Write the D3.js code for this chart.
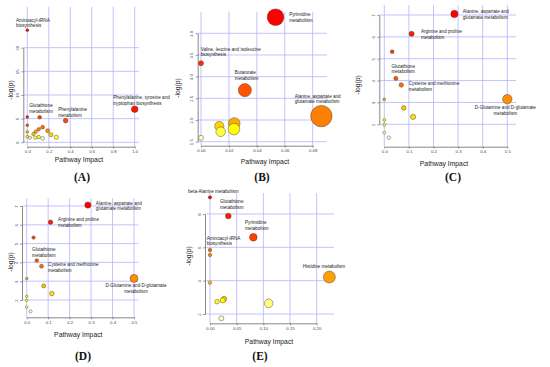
<!DOCTYPE html>
<html>
<head>
<meta charset="utf-8">
<script src="https://cdn.jsdelivr.net/npm/d3@7"></script>
<style>
  body { margin: 0; background: #fff; }
  svg text { font-family: "Liberation Sans", Arial, sans-serif; }
</style>
</head>
<body>
<div id="chart"></div>
<script>
// panel A
var impactA = [0, 1.0, 0.115, 0.357, 0, 0, 0.143, 0.106, 0.19, 0.078, 0, 0.056, 0.22, 0, 0.106, 0.27, 0.075, 0.025, 0.143];
var logpA = [23.7, 7.0, 5.3, 4.57, 5.35, 3.6, 3.2, 2.75, 2.45, 2.25, 2.2, 1.75, 1.6, 1.2, 1.12, 1.06, 0.97, 0.97, 0.84];
var labelsA = [
  [0, ["Aminoacyl-tRNA", "biosynthesis"]],
  [1, ["Phenylalanine, tyrosine and", "tryptophan biosynthesis"]],
  [2, ["Glutathione", "metabolism"]],
  [3, ["Phenylalanine", "metabolism"]]
];
var xTicksA = [0, 0.2, 0.4, 0.6, 0.8, 1.0], xTickLabelsA = ["0.0", "0.2", "0.4", "0.6", "0.8", "1.0"];
var yTicksA = [0, 5, 10, 15, 20], yTickLabelsA = ["0", "5", "10", "15", "20"];

// panel B
var impactB = [0.0534, 0, 0.0314, 0.0862, 0.0238, 0.0131, 0.0236, 0.0141, 0];
var logpB = [4.37, 3.31, 2.69, 2.09, 1.92, 1.86, 1.79, 1.73, 1.59];
var labelsB = [
  [0, ["Pyrimidine", "metabolism"]],
  [1, ["Valine, leucine and isoleucine", "biosynthesis"]],
  [2, ["Butanoate", "metabolism"]],
  [3, ["Alanine, aspartate and", "glutamate metabolism"]]
];
var xTicksB = [0, 0.02, 0.04, 0.06, 0.08], xTickLabelsB = ["0.00", "0.02", "0.04", "0.06", "0.08"];
var yTicksB = [1.5, 2.0, 2.5, 3.0, 3.5, 4.0], yTickLabelsB = ["1.5", "2.0", "2.5", "3.0", "3.5", "4.0"];

// panels C and D (same pathways)
var impactC = [0.285, 0.111, 0.032, 0.047, 0.069, 0, 0.5, 0.079, 0.117, 0, 0, 0, 0.018];
var logpC = [7.05, 6.14, 5.32, 4.1, 3.8, 3.14, 3.15, 2.75, 2.34, 2.2, 1.98, 1.62, 1.39];
var labelsC = [
  [0, ["Alanine, aspartate and", "glutamate metabolism"]],
  [1, ["Arginine and proline", "metabolism"]],
  [3, ["Glutathione", "metabolism"]],
  [4, ["Cysteine and methionine", "metabolism"]],
  [6, ["D-Glutamine and D-glutamate", "metabolism"]]
];
var xTicksC = [0, 0.1, 0.2, 0.3, 0.4, 0.5], xTickLabelsC = ["0.0", "0.1", "0.2", "0.3", "0.4", "0.5"];
var yTicksC = [2, 3, 4, 5, 6, 7], yTickLabelsC = ["2", "3", "4", "5", "6", "7"];

// panel E
var impactE = [0, 0.0343, 0.0812, 0, 0, 0.2237, 0, 0.0263, 0.0238, 0.0131, 0.110, 0.0212];
var logpE = [9.0, 7.88, 6.6, 5.84, 5.54, 4.22, 3.88, 2.9, 2.82, 2.74, 2.64, 1.74];
var labelsE = [
  [0, ["beta-Alanine metabolism"]],
  [1, ["Glutathione", "metabolism"]],
  [2, ["Pyrimidine", "metabolism"]],
  [3, ["Aminoacyl-tRNA", "biosynthesis"]],
  [5, ["Histidine metabolism"]]
];
var xTicksE = [0, 0.05, 0.10, 0.15, 0.20], xTickLabelsE = ["0.00", "0.05", "0.10", "0.15", "0.20"];
var yTicksE = [2, 4, 6, 8], yTickLabelsE = ["2", "4", "6", "8"];

var W = 550, H = 367;

// layout of each panel (pixel positions)
var panels = [
  { letter: "(A)", impact: impactA, logp: logpA, labels: labelsA,
    xTicks: xTicksA, xLab: xTickLabelsA, yTicks: yTicksA, yLab: yTickLabelsA,
    box: { left: 23.3, right: 139, top: 6.7, bottom: 146.7 },
    xRange: [27.3, 134.7], yRange: [142.3, 47.7], r: [1.4, 3.3],
    offsets: [[-11.3, -10], [-21.4, -11.6], [-10.4, -11.3], [-7.4, -10.7]], anchor: [],
    letterPos: [82, 181], xTitle: [79, 159], yTitle: [10, 90] },
  { letter: "(B)", impact: impactB, logp: logpB, labels: labelsB,
    xTicks: xTicksB, xLab: xTickLabelsB, yTicks: yTicksB, yLab: yTickLabelsB,
    box: { left: 197.7, right: 327, top: 11.7, bottom: 145.7 },
    xRange: [201, 312.7], yRange: [141.7, 33.3], r: [2.5, 10.7],
    offsets: [[13.6, -2.3], [-0.3, -14], [-10, -17.3], [-26.7, -20]], anchor: [],
    letterPos: [262, 181], xTitle: [265, 161], yTitle: [177, 88] },
  { letter: "(C)", impact: impactC, logp: logpC, labels: labelsC,
    xTicks: xTicksC, xLab: xTickLabelsC, yTicks: yTicksC, yLab: yTickLabelsC,
    box: { left: 379.3, right: 516, top: 5, bottom: 146.7 },
    xRange: [384.3, 507.3], yRange: [124.3, 15], r: [1.4, 4.7],
    offsets: [[8.4, -2.3], [9.3, -2], [-4.4, -12.3], [7.4, -1], [-2, 8.7]], anchor: [4],
    letterPos: [453, 181], xTitle: [444, 163], yTitle: [357, 85] },
  { letter: "(D)", impact: impactC, logp: logpC, labels: labelsC,
    xTicks: xTicksC, xLab: xTickLabelsC, yTicks: yTicksC, yLab: yTickLabelsC,
    box: { left: 22, right: 138.3, top: 198.3, bottom: 317.3 },
    xRange: [26.7, 134], yRange: [300, 206], r: [1.3, 4],
    offsets: [[8, -1.7], [7.6, -2.6], [-4.7, -10.7], [6.6, -1.7], [2, 7.3]], anchor: [4],
    letterPos: [83, 360], xTitle: [78.3, 334], yTitle: [10, 262] },
  { letter: "(E)", impact: impactE, logp: logpE, labels: labelsE,
    xTicks: xTicksE, xLab: xTickLabelsE, yTicks: yTicksE, yLab: yTickLabelsE,
    box: { left: 205, right: 334, top: 193, bottom: 323.3 },
    xRange: [210, 316.7], yRange: [314, 214], r: [1.7, 6],
    offsets: [[-22, -5.6], [-8.3, -14.3], [-8.3, -14.6], [-3.3, -11.7], [-26.6, -11]], anchor: [],
    letterPos: [260, 360], xTitle: [269, 341.5], yTitle: [188, 256] }
];

// R heat.colors(n)
function heatColors(n) {
  var j = Math.floor(n / 4), i = n - j, cols = [];
  for (var k = 0; k < i; k++) {
    var h = i > 1 ? (k / (i - 1)) * 60 : 0;
    cols.push(d3.hsl(h, 1, 0.5).formatHex());
  }
  for (var m = 0; m < j; m++) {
    var s = j > 1 ? (1 - 1 / (2 * j)) + ((1 / (2 * j)) - (1 - 1 / (2 * j))) * m / (j - 1) : 0.5;
    // hsv(1/6, s, 1) -> rgb(255, 255, 255*(1-s))
    cols.push(d3.rgb(255, 255, Math.round(255 * (1 - s))).formatHex());
  }
  return cols;
}

var svg = d3.select("#chart").append("svg")
  .attr("width", W).attr("height", H);

svg.append("rect").attr("width", W).attr("height", H).attr("fill", "#fff");

panels.forEach(function(p) {
  var g = svg.append("g");
  var b = p.box;

  var x = d3.scaleLinear()
    .domain([p.xTicks[0], p.xTicks[p.xTicks.length - 1]])
    .range(p.xRange);
  var y = d3.scaleLinear()
    .domain([p.yTicks[0], p.yTicks[p.yTicks.length - 1]])
    .range(p.yRange);
  var r = d3.scalePow().exponent(0.7)
    .domain([0, d3.max(p.impact)])
    .range(p.r);

  // grid
  g.append("g").selectAll("line.v")
    .data(p.xTicks).enter().append("line")
      .attr("x1", function(d) { return x(d); })
      .attr("x2", function(d) { return x(d); })
      .attr("y1", b.top).attr("y2", b.bottom)
      .attr("stroke", "#b4b4ff").attr("stroke-width", 0.8);
  g.append("g").selectAll("line.h")
    .data(p.yTicks).enter().append("line")
      .attr("y1", function(d) { return y(d); })
      .attr("y2", function(d) { return y(d); })
      .attr("x1", b.left).attr("x2", b.right)
      .attr("stroke", "#b4b4ff").attr("stroke-width", 0.8);

  // axes
  var xAxis = g.append("g")
    .attr("transform", "translate(0," + b.bottom + ")")
    .call(d3.axisBottom(x).tickValues(p.xTicks)
      .tickFormat(function(d, i) { return p.xLab[i]; })
      .tickSize(2).tickSizeOuter(0).tickPadding(1.5));
  var yAxis = g.append("g")
    .attr("transform", "translate(" + b.left + ",0)")
    .call(d3.axisLeft(y).tickValues(p.yTicks)
      .tickFormat(function(d, i) { return p.yLab[i]; })
      .tickSize(2).tickSizeOuter(0));
  [xAxis, yAxis].forEach(function(a) {
    a.select(".domain").attr("stroke", "#555").attr("stroke-width", 0.7);
    a.selectAll(".tick line").attr("stroke", "#555").attr("stroke-width", 0.6);
    a.selectAll("text").attr("font-size", "4.3px").attr("fill", "#444")
      .style("font-family", "'Liberation Sans', Arial, sans-serif");
  });
  yAxis.selectAll(".tick text")
    .attr("x", null).attr("dy", null)
    .attr("text-anchor", "middle")
    .attr("transform", "translate(-4.5,0) rotate(-90)");

  // axis titles
  g.append("text")
    .attr("x", p.xTitle[0]).attr("y", p.xTitle[1])
    .attr("text-anchor", "middle").attr("dominant-baseline", "central")
    .attr("font-size", "6.8px").attr("fill", "#222")
    .text("Pathway Impact");
  g.append("text")
    .attr("transform", "translate(" + p.yTitle[0] + "," + p.yTitle[1] + ") rotate(-90)")
    .attr("text-anchor", "middle").attr("dominant-baseline", "central")
    .attr("font-size", "6.8px").attr("fill", "#222")
    .text("-log(p)");

  // colours by rank of -log(p)
  var n = p.logp.length;
  var order = d3.range(n).sort(function(a, c) { return p.logp[c] - p.logp[a]; });
  var cols = heatColors(n);
  var colorOf = {};
  order.forEach(function(idx, k) { colorOf[idx] = cols[k]; });

  g.append("g").selectAll("circle")
    .data(order).enter().append("circle")
      .attr("cx", function(i) { return x(p.impact[i]); })
      .attr("cy", function(i) { return y(p.logp[i]); })
      .attr("r", function(i) { return r(p.impact[i]); })
      .attr("fill", function(i) { return colorOf[i]; })
      .attr("stroke", "#4a3a30").attr("stroke-width", 0.45);

  // pathway labels
  p.labels.forEach(function(lab, k) {
    var i = lab[0], off = p.offsets[k];
    var mid = p.anchor.indexOf(k) >= 0;
    var t = g.append("text")
      .attr("font-size", "4.6px").attr("fill", "#222")
      .attr("text-anchor", mid ? "middle" : "start");
    lab[1].forEach(function(line, li) {
      t.append("tspan")
        .attr("x", x(p.impact[i]) + off[0])
        .attr("y", y(p.logp[i]) + off[1] + li * 5.6)
        .attr("dominant-baseline", "central")
        .text(line);
    });
  });

  // panel letter
  svg.append("text")
    .attr("x", p.letterPos[0]).attr("y", p.letterPos[1])
    .attr("text-anchor", "middle")
    .attr("font-size", "11.5px").attr("font-weight", "bold")
    .style("font-family", "'Liberation Serif', 'Times New Roman', serif")
    .attr("fill", "#111")
    .text(p.letter);
});
</script>
</body>
</html>
